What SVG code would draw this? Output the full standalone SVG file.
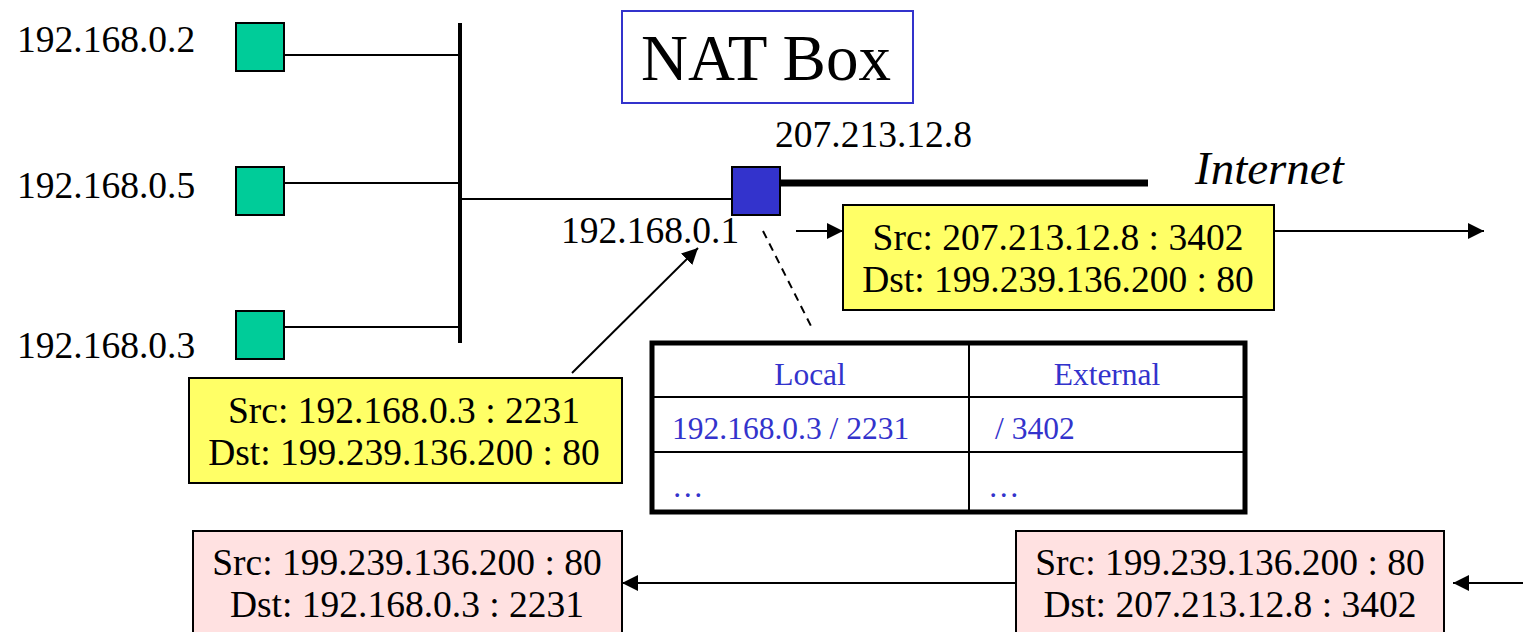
<svg xmlns="http://www.w3.org/2000/svg" width="1523" height="632" viewBox="0 0 1523 632">
<style>
text{font-family:"Liberation Serif","Times New Roman",serif;fill:#000}
.t{font-size:37.5px}
.c{text-anchor:middle}
.host{fill:#00CC99;stroke:#000;stroke-width:2}
.ln{stroke:#000;stroke-width:2;fill:none}
.yb{fill:#FFFF66;stroke:#000;stroke-width:2}
.pb{fill:#FFE1E1;stroke:#000;stroke-width:2}
.tb{font-size:31.5px;fill:#3333CC}
</style>
<defs>
<marker id="ah2" viewBox="0 0 10 10" refX="10" refY="5" markerWidth="16" markerHeight="16" markerUnits="userSpaceOnUse" orient="auto">
<path d="M0,0 L10,5 L0,10 z" fill="#000"/>
</marker>
</defs>
<rect width="1523" height="632" fill="#fff"/>

<g id="connectors">
<line class="ln" x1="284" y1="55" x2="460" y2="55"/>
<line class="ln" x1="284" y1="183" x2="460" y2="183"/>
<line class="ln" x1="284" y1="327" x2="460" y2="327"/>
<line x1="460" y1="23" x2="460" y2="343" stroke="#000" stroke-width="4"/>
<line class="ln" x1="460" y1="199" x2="732" y2="199"/>
<line x1="780" y1="183" x2="1148" y2="183" stroke="#000" stroke-width="7"/>
<line class="ln" x1="572" y1="373" x2="698" y2="248" marker-end="url(#ah2)"/>
<line class="ln" x1="763" y1="231" x2="811" y2="326" stroke-dasharray="8,6"/>
<line class="ln" x1="796" y1="231" x2="843" y2="231" marker-end="url(#ah2)"/>
<line class="ln" x1="1260" y1="231" x2="1484" y2="231" marker-end="url(#ah2)"/>
<line class="ln" x1="1017" y1="583" x2="622" y2="583" marker-end="url(#ah2)"/>
<line class="ln" x1="1523" y1="583" x2="1453" y2="583" marker-end="url(#ah2)"/>
</g>

<g id="host-192-168-0-2">
<rect class="host" x="236" y="23" width="48" height="48"/>
<text class="t" x="17" y="52">192.168.0.2</text>
</g>
<g id="host-192-168-0-5">
<rect class="host" x="236" y="167" width="48" height="48"/>
<text class="t" x="17" y="198">192.168.0.5</text>
</g>
<g id="host-192-168-0-3">
<rect class="host" x="236" y="311" width="48" height="48"/>
<text class="t" x="17" y="358">192.168.0.3</text>
</g>

<g id="nat-box-label">
<rect x="622" y="11" width="291" height="92" fill="#fff" stroke="#3333CC" stroke-width="2"/>
<text x="766" y="80" class="c" style="font-size:65px">NAT Box</text>
</g>

<g id="nat-router">
<rect x="732" y="167" width="48" height="48" fill="#3333CC" stroke="#000" stroke-width="2"/>
<text class="t" x="775" y="147">207.213.12.8</text>
<text class="t" x="561" y="243">192.168.0.1</text>
</g>

<g id="internet">
<text x="1195" y="184" style="font-size:47px;font-style:italic">Internet</text>
</g>

<g id="packet-out-internal">
<rect class="yb" x="189" y="378" width="433" height="105"/>
<text class="t c" x="404" y="423">Src: 192.168.0.3 : 2231</text>
<text class="t c" x="404" y="465">Dst: 199.239.136.200 : 80</text>
</g>

<g id="packet-out-external">
<rect class="yb" x="843" y="205" width="431" height="105"/>
<text class="t c" x="1058" y="250">Src: 207.213.12.8 : 3402</text>
<text class="t c" x="1058" y="292">Dst: 199.239.136.200 : 80</text>
</g>

<g id="nat-table">
<rect x="652" y="343" width="593" height="169" fill="#fff" stroke="#000" stroke-width="5"/>
<line class="ln" x1="969" y1="343" x2="969" y2="512"/>
<line class="ln" x1="652" y1="397" x2="1245" y2="397"/>
<line class="ln" x1="652" y1="452" x2="1245" y2="452"/>
<text class="tb c" x="810" y="385">Local</text>
<text class="tb c" x="1107" y="385">External</text>
<text class="tb" x="672" y="439">192.168.0.3 / 2231</text>
<text class="tb" x="995" y="439">/ 3402</text>
<text class="tb" x="672" y="497">…</text>
<text class="tb" x="988" y="497">…</text>
</g>

<g id="packet-in-external">
<rect class="pb" x="1016" y="531" width="428" height="110"/>
<text class="t c" x="1230" y="575">Src: 199.239.136.200 : 80</text>
<text class="t c" x="1230" y="617">Dst: 207.213.12.8 : 3402</text>
</g>

<g id="packet-in-internal">
<rect class="pb" x="193" y="531" width="429" height="110"/>
<text class="t c" x="407" y="575">Src: 199.239.136.200 : 80</text>
<text class="t c" x="407" y="617">Dst: 192.168.0.3 : 2231</text>
</g>
</svg>
